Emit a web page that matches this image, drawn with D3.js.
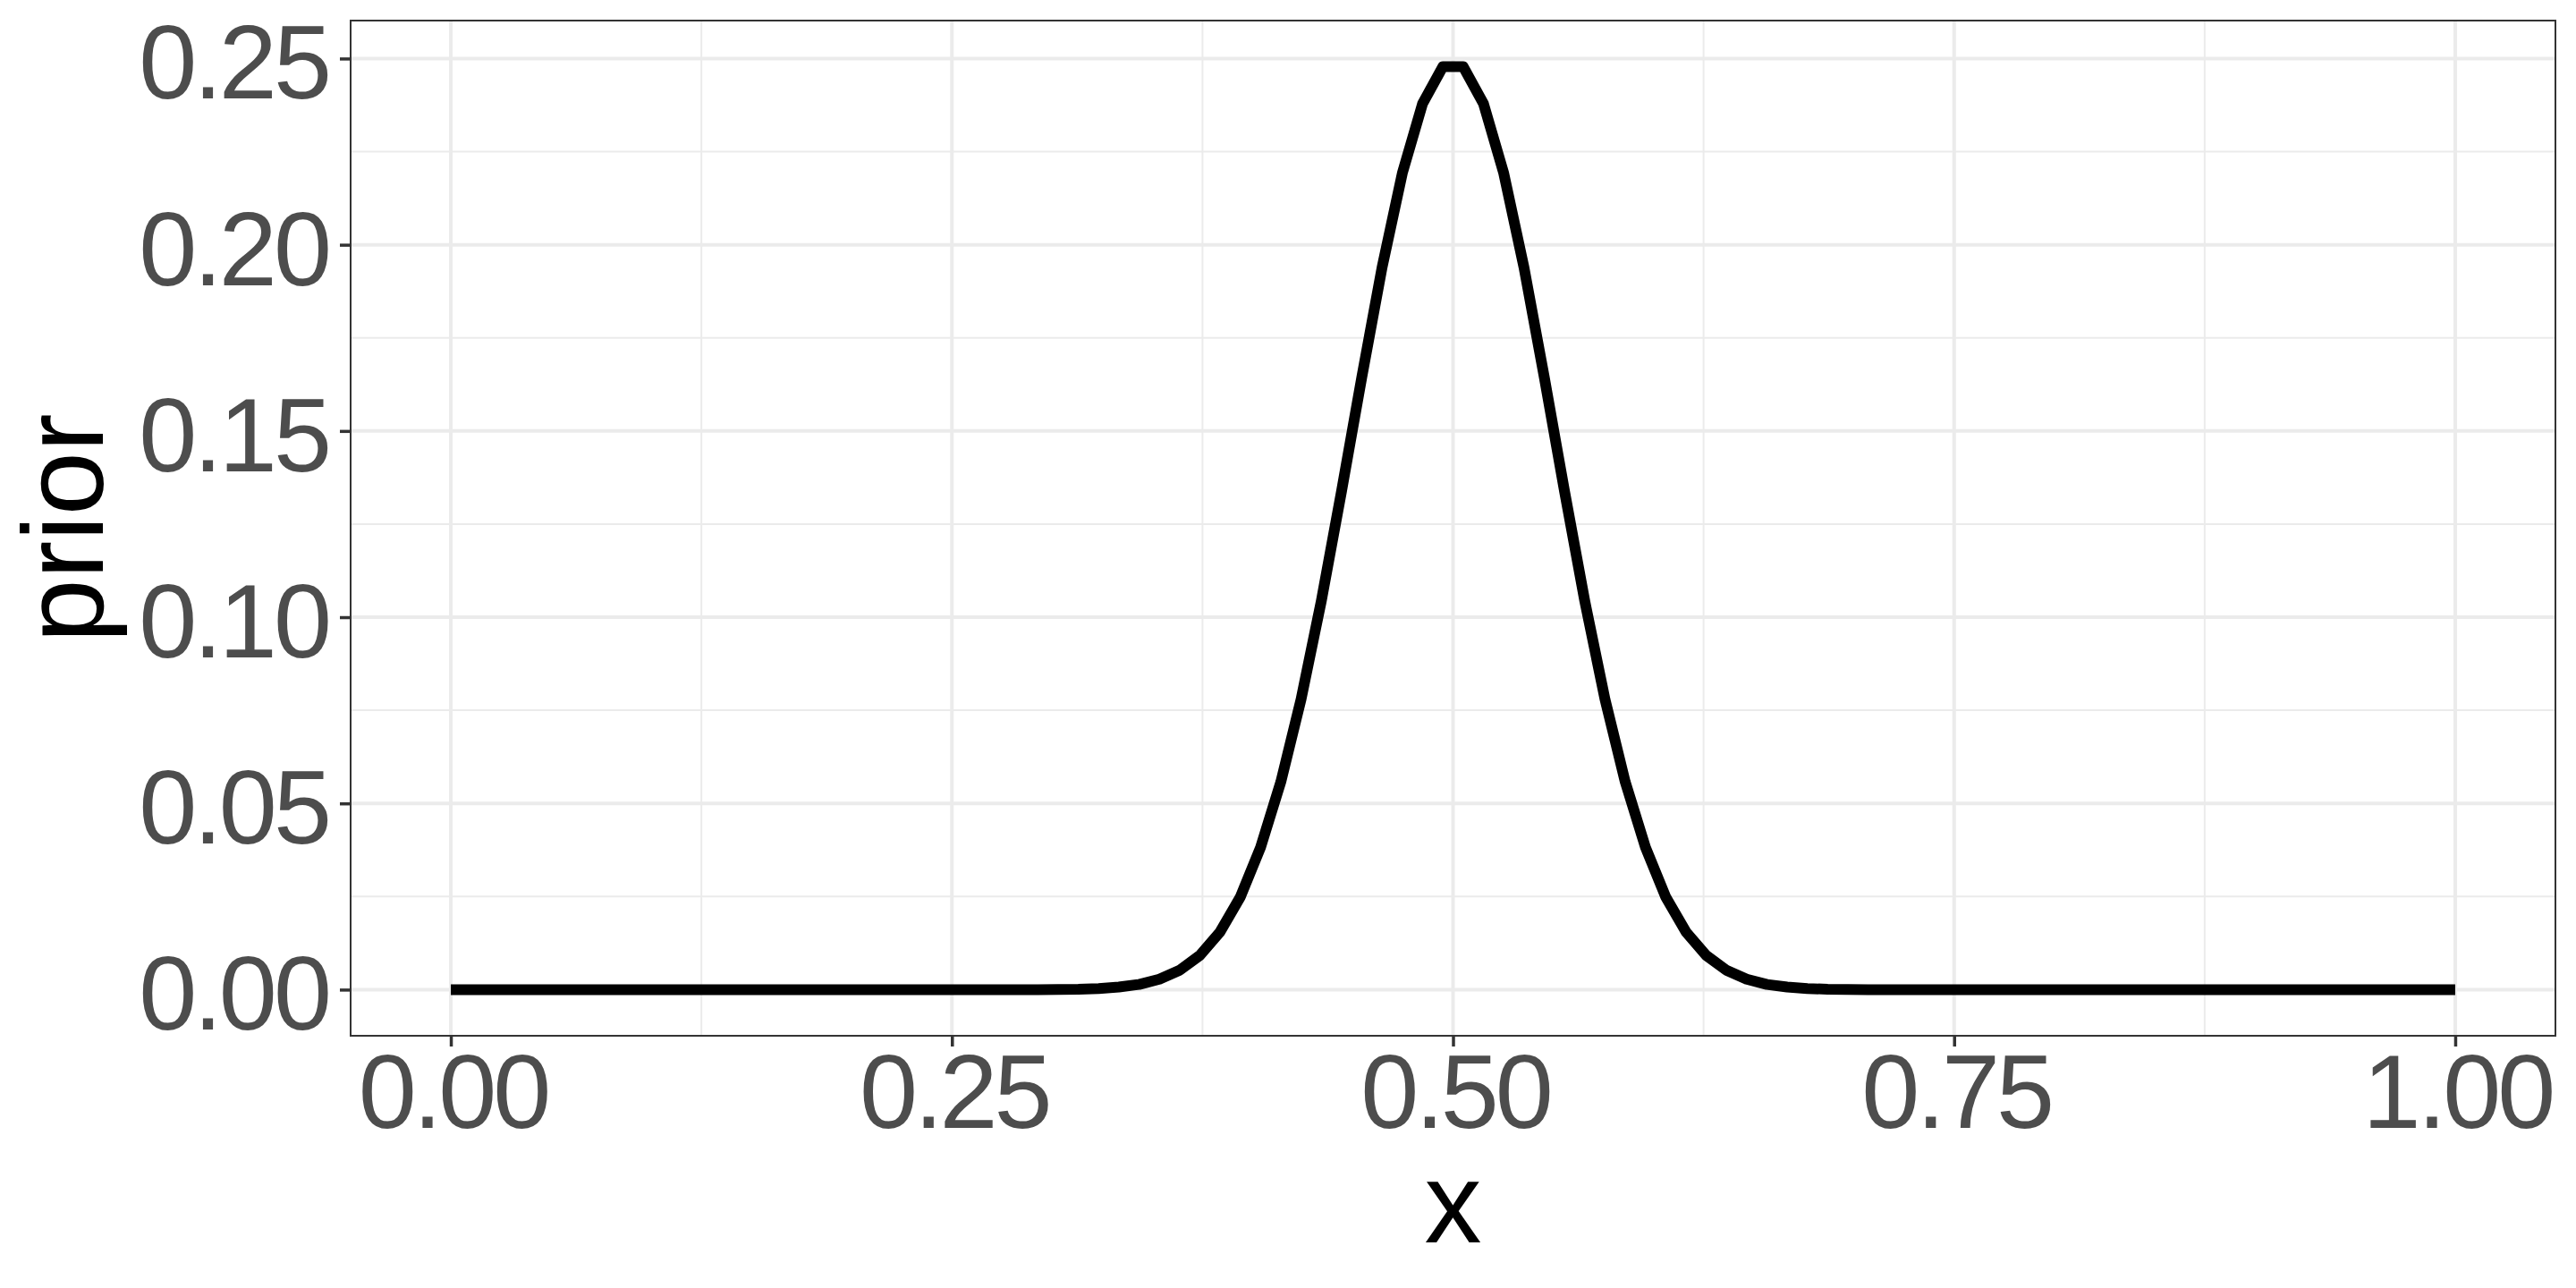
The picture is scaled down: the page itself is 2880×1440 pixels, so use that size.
<!DOCTYPE html>
<html>
<head>
<meta charset="utf-8">
<script src="https://cdn.jsdelivr.net/npm/d3@7"></script>
<style>
  body { margin: 0; background: #ffffff; }
  text { font-family: "Liberation Sans", Arial, Helvetica, sans-serif; }
</style>
</head>
<body>
<div id="vis"></div>
<script>
// Declare constants
const FRAME_HEIGHT = 1440;
const FRAME_WIDTH = 2880;
const MARGINS = {left: 392, right: 23, top: 23, bottom: 282};

const VIS_HEIGHT = FRAME_HEIGHT - MARGINS.top - MARGINS.bottom;
const VIS_WIDTH = FRAME_WIDTH - MARGINS.left - MARGINS.right;

// grid of x values (100 points from 0 to 1)
const xs = [
  0, .0101, .0202, .0303, .0404, .0505, .0606, .0707, .0808, .0909,
  .1010, .1111, .1212, .1313, .1414, .1515, .1616, .1717, .1818, .1919,
  .2020, .2121, .2222, .2323, .2424, .2525, .2626, .2727, .2828, .2929,
  .3030, .3131, .3232, .3333, .3434, .3535, .3636, .3737, .3838, .3939,
  .4040, .4141, .4242, .4343, .4444, .4545, .4646, .4747, .4848, .4949,
  .5051, .5152, .5253, .5354, .5455, .5556, .5657, .5758, .5859, .5960,
  .6061, .6162, .6263, .6364, .6465, .6566, .6667, .6768, .6869, .6970,
  .7071, .7172, .7273, .7374, .7475, .7576, .7677, .7778, .7879, .7980,
  .8081, .8182, .8283, .8384, .8485, .8586, .8687, .8788, .8889, .8990,
  .9091, .9192, .9293, .9394, .9495, .9596, .9697, .9798, .9899, 1
];

// prior values
const prior = [
  0, 0, 0, 0, 0, 0, 0, 0, 0, 0,
  0, 0, 0, 0, 0, 0, 0, 0, 0, 0,
  0, 0, 0, 0, 0, 0, 0, 0, 0, 0,
  0.00006, 0.0001, 0.0003, 0.0007, 0.0014, 0.0028, 0.0052, 0.0092, 0.0155, 0.0249,
  0.0382, 0.0558, 0.0780, 0.1044, 0.1339, 0.1645, 0.1939, 0.2192, 0.2379, 0.2478,
  0.2478, 0.2379, 0.2192, 0.1939, 0.1645, 0.1339, 0.1044, 0.0780, 0.0558, 0.0382,
  0.0249, 0.0155, 0.0092, 0.0052, 0.0028, 0.0014, 0.0007, 0.0003, 0.0001, 0.00006,
  0, 0, 0, 0, 0, 0, 0, 0, 0, 0,
  0, 0, 0, 0, 0, 0, 0, 0, 0, 0,
  0, 0, 0, 0, 0, 0, 0, 0, 0, 0
];

const xMajor = [0, 0.25, 0.5, 0.75, 1];
const xMinor = [0.125, 0.375, 0.625, 0.875];
const yMajor = [0, 0.05, 0.10, 0.15, 0.20, 0.25];
const yMinor = [0.025, 0.075, 0.125, 0.175, 0.225];

const X_TITLE = "x";
const Y_TITLE = "prior";

const data = xs.map((x, i) => ({x: x, y: prior[i]}));

const FRAME = d3.select("#vis")
        .append("svg")
          .attr("width", FRAME_WIDTH)
          .attr("height", FRAME_HEIGHT);

// scales with ggplot style 5% expansion
const xExt = d3.extent(xs);
const yExt = d3.extent(prior);
const xPad = (xExt[1] - xExt[0]) * 0.05;
const yPad = (yExt[1] - yExt[0]) * 0.05;

const X_SCALE = d3.scaleLinear()
        .domain([xExt[0] - xPad, xExt[1] + xPad])
        .range([MARGINS.left, MARGINS.left + VIS_WIDTH]);

const Y_SCALE = d3.scaleLinear()
        .domain([yExt[0] - yPad, yExt[1] + yPad])
        .range([MARGINS.top + VIS_HEIGHT, MARGINS.top]);

// panel background
FRAME.append("rect")
    .attr("x", MARGINS.left)
    .attr("y", MARGINS.top)
    .attr("width", VIS_WIDTH)
    .attr("height", VIS_HEIGHT)
    .attr("fill", "#ffffff");

// grid lines
const GRID = FRAME.append("g").attr("class", "grid");

GRID.selectAll(".xminor").data(xMinor).enter()
    .append("line")
    .attr("x1", d => X_SCALE(d)).attr("x2", d => X_SCALE(d))
    .attr("y1", MARGINS.top).attr("y2", MARGINS.top + VIS_HEIGHT)
    .attr("stroke", "#EBEBEB").attr("stroke-width", 2);

GRID.selectAll(".yminor").data(yMinor).enter()
    .append("line")
    .attr("y1", d => Y_SCALE(d)).attr("y2", d => Y_SCALE(d))
    .attr("x1", MARGINS.left).attr("x2", MARGINS.left + VIS_WIDTH)
    .attr("stroke", "#EBEBEB").attr("stroke-width", 2);

GRID.selectAll(".xmajor").data(xMajor).enter()
    .append("line")
    .attr("x1", d => X_SCALE(d)).attr("x2", d => X_SCALE(d))
    .attr("y1", MARGINS.top).attr("y2", MARGINS.top + VIS_HEIGHT)
    .attr("stroke", "#EBEBEB").attr("stroke-width", 4);

GRID.selectAll(".ymajor").data(yMajor).enter()
    .append("line")
    .attr("y1", d => Y_SCALE(d)).attr("y2", d => Y_SCALE(d))
    .attr("x1", MARGINS.left).attr("x2", MARGINS.left + VIS_WIDTH)
    .attr("stroke", "#EBEBEB").attr("stroke-width", 4);

// the prior curve
const line = d3.line()
    .x(d => X_SCALE(d.x))
    .y(d => Y_SCALE(d.y));

FRAME.append("path")
    .datum(data)
    .attr("d", line)
    .attr("fill", "none")
    .attr("stroke", "#000000")
    .attr("stroke-width", 12)
    .attr("stroke-linejoin", "round")
    .attr("stroke-linecap", "butt");

// panel border
FRAME.append("rect")
    .attr("x", MARGINS.left)
    .attr("y", MARGINS.top)
    .attr("width", VIS_WIDTH)
    .attr("height", VIS_HEIGHT)
    .attr("fill", "none")
    .attr("stroke", "#333333")
    .attr("stroke-width", 2);

// axes
const xAxis = FRAME.append("g")
    .attr("transform", "translate(0," + (MARGINS.top + VIS_HEIGHT) + ")")
    .call(d3.axisBottom(X_SCALE)
            .tickValues(xMajor)
            .tickFormat(d3.format(".2f"))
            .tickSize(12)
            .tickPadding(8));

const yAxis = FRAME.append("g")
    .attr("transform", "translate(" + MARGINS.left + ",0)")
    .call(d3.axisLeft(Y_SCALE)
            .tickValues(yMajor)
            .tickFormat(d3.format(".2f"))
            .tickSize(12)
            .tickPadding(13));

[xAxis, yAxis].forEach(ax => {
  ax.select(".domain").remove();
  ax.selectAll(".tick line")
      .attr("stroke", "#333333")
      .attr("stroke-width", 3.5);
  ax.selectAll(".tick text")
      .attr("fill", "#4D4D4D")
      .attr("font-size", 117)
      .attr("letter-spacing", -4)
      .attr("font-family", "'Liberation Sans', Arial, Helvetica, sans-serif");
});
yAxis.selectAll(".tick text").attr("dy", "0.38em");
xAxis.selectAll(".tick text").attr("dx", 2);

// axis titles
FRAME.append("text")
    .attr("x", MARGINS.left + VIS_WIDTH / 2)
    .attr("y", 1389)
    .attr("text-anchor", "middle")
    .attr("font-size", 128)
    .attr("fill", "#000000")
    .text(X_TITLE);

FRAME.append("text")
    .attr("transform", "translate(115," + (MARGINS.top + VIS_HEIGHT / 2) + ") rotate(-90)")
    .attr("text-anchor", "middle")
    .attr("font-size", 128)
    .attr("fill", "#000000")
    .text(Y_TITLE);
</script>
</body>
</html>
